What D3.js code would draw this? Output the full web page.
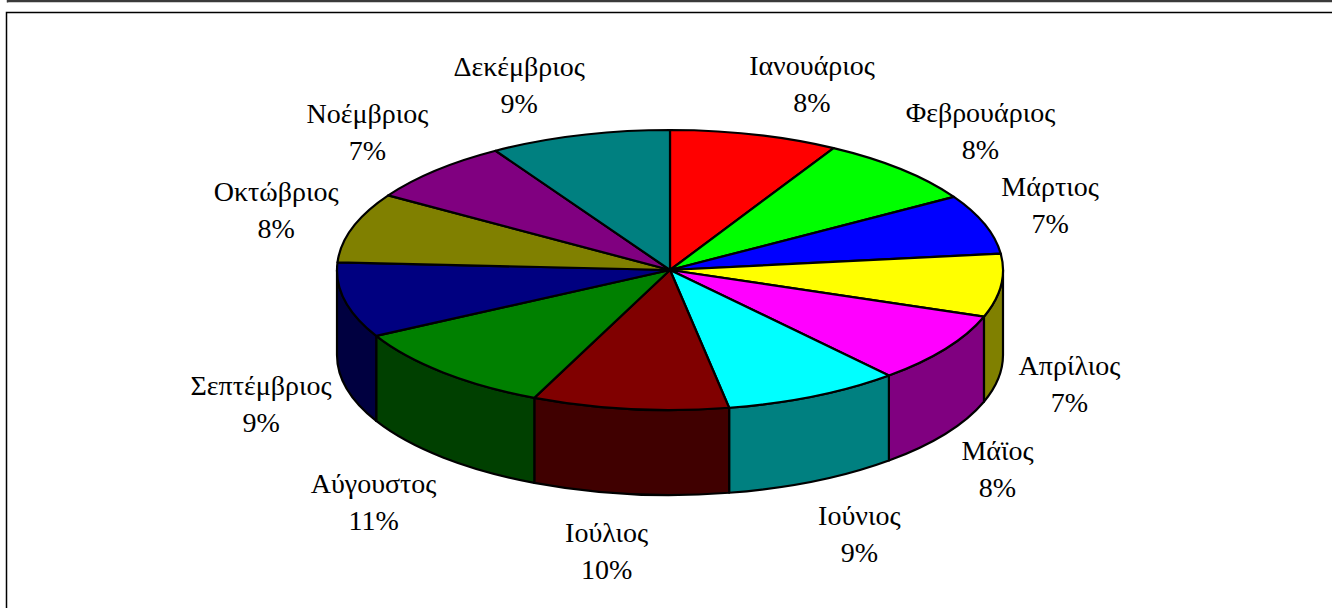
<!DOCTYPE html>
<html>
<head>
<meta charset="utf-8">
<script src="https://cdn.jsdelivr.net/npm/d3@7"></script>
<style>
  html, body { margin: 0; padding: 0; background: #fff; }
  svg { display: block; }
  text { font-family: "Liberation Serif", "Times New Roman", serif; fill: #000; }
</style>
</head>
<body>
<svg id="chart" width="1332" height="608"></svg>
<script>
// ---- data ----
const categories = ["Ιανουάριος","Φεβρουάριος","Μάρτιος","Απρίλιος","Μάϊος","Ιούνιος",
                    "Ιούλιος","Αύγουστος","Σεπτέμβριος","Οκτώβριος","Νοέμβριος","Δεκέμβριος"];
const values = [8.2, 8.1, 6.9, 7.3, 8.2, 8.6, 9.55, 10.55, 8.7, 8.1, 7.3, 8.8];
const sliceColors = ["#FF0000","#00FF00","#0000FF","#FFFF00","#FF00FF","#00FFFF",
                     "#800000","#008000","#000080","#808000","#800080","#008080"];

// ---- layout ----
const W = 1332, H = 608;
const cx = 670, cy = 270, rx = 333, ry = 140, depth = 85;
const fontSize = 28, lineGap = 37;

const svg = d3.select("#chart");

// frames
svg.append("line").attr("x1", 7).attr("x2", W).attr("y1", 1.2).attr("y2", 1.2)
  .attr("stroke", "#3a3a3a").attr("stroke-width", 2.2);
svg.append("line").attr("x1", 7.5).attr("x2", 7.5).attr("y1", 0).attr("y2", 2.4)
  .attr("stroke", "#3a3a3a").attr("stroke-width", 1.5);
svg.append("rect").attr("x", 6.5).attr("y", 12.5).attr("width", W + 20).attr("height", H + 20)
  .attr("fill", "none").attr("stroke", "#000").attr("stroke-width", 1.5);

const color = d3.scaleOrdinal(categories, sliceColors);
const data = categories.map((c, i) => ({ name: c, value: values[i] }));
const total = d3.sum(values);
const pct = d3.format(".0%");

const arcs = d3.pie().sort(null).value(d => d.value).startAngle(0).endAngle(2 * Math.PI)(data);

const px = a => cx + rx * Math.sin(a);
const py = a => cy - ry * Math.cos(a);

function topPath(d) {
  const a0 = d.startAngle, a1 = d.endAngle;
  const large = (a1 - a0) > Math.PI ? 1 : 0;
  return `M${cx},${cy}L${px(a0)},${py(a0)}A${rx},${ry} 0 ${large} 1 ${px(a1)},${py(a1)}Z`;
}
function sidePath(d) {
  const b0 = Math.max(d.startAngle, Math.PI / 2);
  const b1 = Math.min(d.endAngle, 3 * Math.PI / 2);
  if (b1 <= b0) return null;
  return `M${px(b0)},${py(b0)}A${rx},${ry} 0 0 1 ${px(b1)},${py(b1)}` +
         `L${px(b1)},${py(b1) + depth}A${rx},${ry} 0 0 0 ${px(b0)},${py(b0) + depth}Z`;
}
const darken = c => { const r = d3.rgb(c); return d3.rgb(r.r * 0.5, r.g * 0.5, r.b * 0.5).formatHex(); };

const g = svg.append("g");
// side walls
g.selectAll("path.side").data(arcs.filter(d => sidePath(d))).join("path")
  .attr("class", "side")
  .attr("d", sidePath)
  .attr("fill", d => darken(color(d.data.name)))
  .attr("stroke", "#000").attr("stroke-width", 2.2).attr("stroke-linejoin", "round");
// top faces
g.selectAll("path.top").data(arcs).join("path")
  .attr("class", "top")
  .attr("d", topPath)
  .attr("fill", d => color(d.data.name))
  .attr("stroke", "#000").attr("stroke-width", 2.2).attr("stroke-linejoin", "round");

// labels: anchored outside the rim on the slice mid-angle, box pushed outward
const labelRx = rx + 28, labelRy = 190, pullX = 0.8, pullY = 5, shiftY = 3;
const lab = svg.append("g").selectAll("g").data(arcs).join("g");
lab.append("text").attr("text-anchor", "middle").attr("font-size", fontSize)
  .attr("y", -lineGap / 2 + 9).text(d => d.data.name);
lab.append("text").attr("text-anchor", "middle").attr("font-size", fontSize)
  .attr("y", lineGap / 2 + 9).text(d => pct(d.data.value / total));
lab.attr("transform", function (d) {
  const m = (d.startAngle + d.endAngle) / 2;
  const c = Math.cos(m), s = Math.sin(m);
  const w = d3.select(this).select("text").node().getComputedTextLength();
  const side = Math.max(-1, Math.min(1, s / 0.2));
  const lx = cx + labelRx * s + pullX * (w / 2) * side;
  const ly = cy - labelRy * c - pullY * Math.sign(c) + (c < 0 ? depth : 0) + shiftY;
  return `translate(${lx},${ly})`;
});
</script>
</body>
</html>
